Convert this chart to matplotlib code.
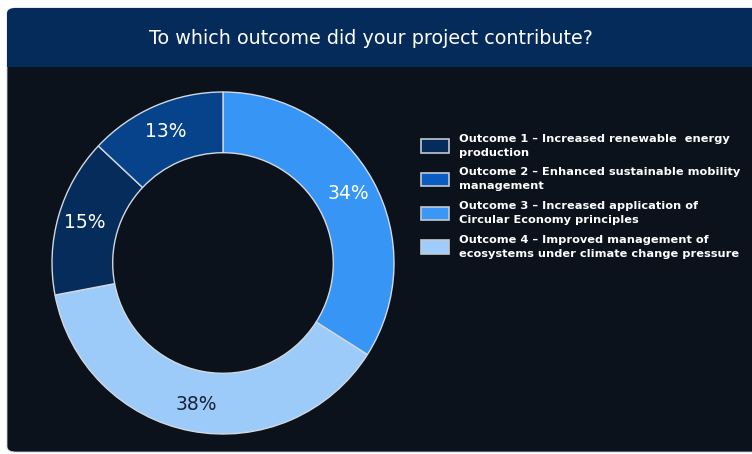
import matplotlib
matplotlib.use("Agg")
import matplotlib.pyplot as plt
from matplotlib.patches import FancyBboxPatch, Rectangle, Patch

# survey results, clockwise from 12 o'clock
outcomes = [
    "Outcome 3 – Increased application of\nCircular Economy principles",
    "Outcome 4 – Improved management of\necosystems under climate change pressure",
    "Outcome 1 – Increased renewable  energy\nproduction",
    "Outcome 2 – Enhanced sustainable mobility\nmanagement",
]
shares = [34, 38, 15, 13]
slice_colors = ["#3796f5", "#9ccbf9", "#062c5c", "#07438b"]
label_colors = ["white", "#1b2233", "white", "white"]

# legend is listed in outcome order
legend_order = [2, 3, 0, 1]
legend_colors = {2: "#062c5c", 3: "#0b5cc2", 0: "#3a97f6", 1: "#9fccfa"}

W, H = 752, 454
fig = plt.figure(figsize=(W / 100, H / 100), dpi=100)
fig.patch.set_facecolor("white")

def px(x, y):
    return x / W, 1 - y / H

# card: dark body with navy header strip
card_left, card_top, card_bottom = 7, 8, 452
body = FancyBboxPatch(px(card_left, card_bottom), (W - card_left + 20) / W,
                      (card_bottom - card_top) / H,
                      boxstyle="round,pad=0,rounding_size=0.012",
                      transform=fig.transFigure, facecolor="#0b121c",
                      edgecolor="#c9ced6", linewidth=0.6, zorder=-2)
fig.patches.append(body)
header = FancyBboxPatch(px(card_left, 67), (W - card_left + 20) / W,
                        (67 - card_top) / H,
                        boxstyle="round,pad=0,rounding_size=0.012",
                        transform=fig.transFigure, facecolor="#042b5a",
                        edgecolor="none", zorder=-1)
fig.patches.append(header)
fig.patches.append(Rectangle(px(card_left, 67), (W - card_left) / W, 20 / H,
                             transform=fig.transFigure, facecolor="#042b5a",
                             edgecolor="none", zorder=-1))

fig.text(*px(371, 38), "To which outcome did your project contribute?",
         color="white", fontsize=13.8, ha="center", va="center", zorder=3)

# donut
cx, cy, r = 223, 263, 171
ax = fig.add_axes([(cx - r) / W, (H - cy - r) / H, 2 * r / W, 2 * r / H])
ax.set_zorder(2)
ax.set_facecolor("none")
wedges, _, autotexts = ax.pie(
    shares, colors=slice_colors, startangle=90, counterclock=False,
    radius=1, autopct="%d%%", pctdistance=0.84,
    wedgeprops=dict(width=0.355, edgecolor="#d3d8df", linewidth=1.0),
    textprops=dict(fontsize=13.5),
)
for t, c in zip(autotexts, label_colors):
    t.set_color(c)
ax.set_xlim(-1, 1)
ax.set_ylim(-1, 1)
ax.set_aspect("equal")
ax.axis("off")

handles = [Patch(facecolor=legend_colors[i], edgecolor="#c3c9d1", linewidth=1.2)
           for i in legend_order]
labels = [outcomes[i] for i in legend_order]
leg = fig.legend(handles, labels, loc="upper left",
                 bbox_to_anchor=px(416, 129), frameon=False,
                 prop=dict(size=8.2, weight="bold"),
                 handlelength=2.5, handleheight=1.45, handletextpad=0.85,
                 labelspacing=0.86, borderaxespad=0)
leg.set_zorder(3)
for t in leg.get_texts():
    t.set_color("white")
    t.set_linespacing(1.5)

fig.savefig("out.png", dpi=100, facecolor=fig.get_facecolor())
